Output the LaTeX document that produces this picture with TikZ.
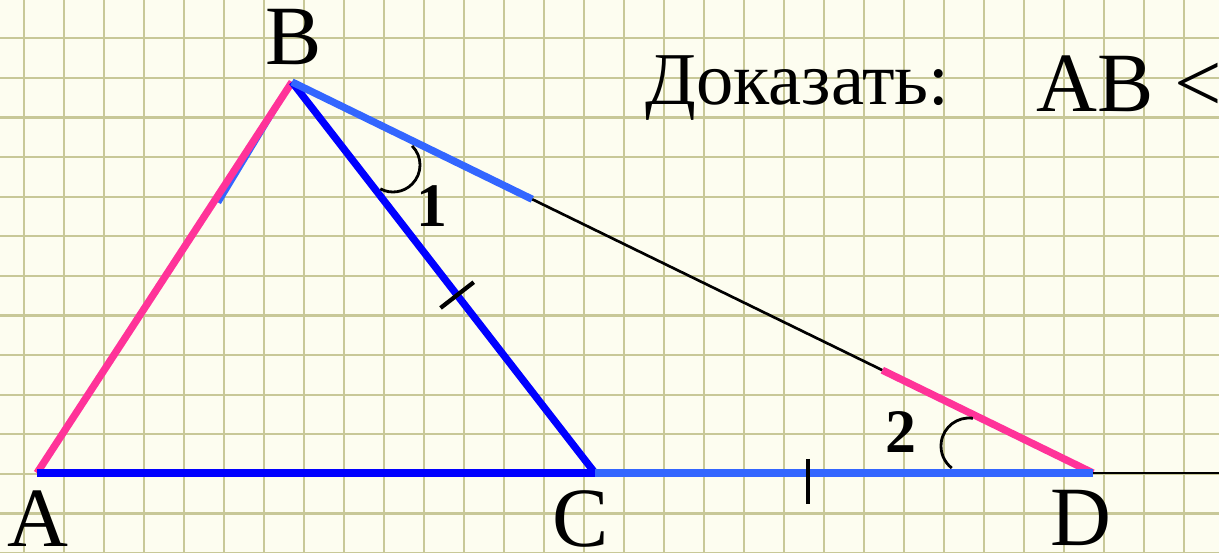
\documentclass[tikz,border=0pt]{standalone}
\usepackage{fontspec}
\setmainfont{Liberation Serif}
\definecolor{paper}{RGB}{253,253,240}
\definecolor{gridolive}{RGB}{200,200,152}
\definecolor{hotpink}{RGB}{255,51,153}
\definecolor{deepblue}{RGB}{0,0,255}
\definecolor{skyblue}{RGB}{51,102,255}
\usetikzlibrary{calc}

\begin{document}
\begin{tikzpicture}[x=0.025cm, y=0.025cm,
      gridline/.style={gridolive, line width=1.5pt},
      side/.style={line width=5.2pt},
      thinside/.style={black, line width=1.9pt},
      tick/.style={black, line width=3pt},
      angmark/.style={black, line width=2pt},
      vlabel/.style={anchor=base, inner sep=0pt, font=\fontsize{60}{60}\selectfont},
      anglabel/.style={anchor=base, inner sep=0pt, font=\fontsize{44}{44}\selectfont\bfseries},
      goal/.style={anchor=base west, inner sep=0pt, font=\fontsize{53}{53}\selectfont}
    ]
    \clip (0,0) rectangle (1219,553);
    \fill[paper] (0,0) rectangle (1219,553);
    \foreach \gx in {0,...,29}
      \draw[gridline] ({24+40*\gx},0) -- ({24+40*\gx},553);
    \foreach \gy in {0,...,13}
      \draw[gridline] (0,{514.7-39.6*\gy}) -- (1219,{514.7-39.6*\gy});

    \coordinate (A) at (37,80);
    \coordinate (B) at (292,471);
    \coordinate (C) at (595,80);
    \coordinate (D) at (1093,80);
    \coordinate (R) at (1219,80);
    \coordinate (G) at (219,350);
    \coordinate (E) at ($(B)!0.30!(D)$);
    \coordinate (F) at ($(B)!0.737!(D)$);
    \coordinate (M) at ($(B)!0.545!(C)$);
    \coordinate (K) at (808,80);
    \coordinate (O1) at (393,388);
    \coordinate (O2) at (969,107);

    % sides
    \draw[side, skyblue, line width=3pt] (B) -- (G);
    \draw[side, hotpink] (A) -- (B);
    \draw[side, deepblue] (A) -- (C);
    \draw[side, deepblue] (B) -- (C);
    \draw[side, skyblue] (B) -- (E);
    \draw[thinside] (E) -- (F);
    \draw[side, hotpink] (F) -- (D);
    \draw[side, skyblue] (C) -- (D);
    \draw[thinside] (D) -- (R);

    % equal marks and angles
    \draw[tick] ($(M)!0.525cm!90:(C)$) -- ($(M)!0.525cm!-90:(C)$);
    \draw[tick] ([yshift=0.35cm]K) -- ([yshift=-0.775cm]K);
    \draw[angmark] ([shift={(45:0.675cm)}]O1) arc[start angle=45, end angle=-118, radius=0.675cm];
    \draw[angmark] ([shift={(82:0.7cm)}]O2) arc[start angle=82, end angle=232, radius=0.7cm];

    \node[vlabel] (lA) at (38,6) {A};
    \node[vlabel] (lB) at (294,488) {B};
    \node[vlabel] (lC) at (581,6) {C};
    \node[vlabel] (lD) at (1081,7) {D};
    \node[anglabel] (l1) at (432,326) {1};
    \node[anglabel] (l2) at (901,100) {2};
    \node[goal] (task) at (645,448) {Доказать:};
    \node[goal, font=\fontsize{60}{60}\selectfont] (claim) at (1036,441) {AB <};
  \end{tikzpicture}
\end{document}
